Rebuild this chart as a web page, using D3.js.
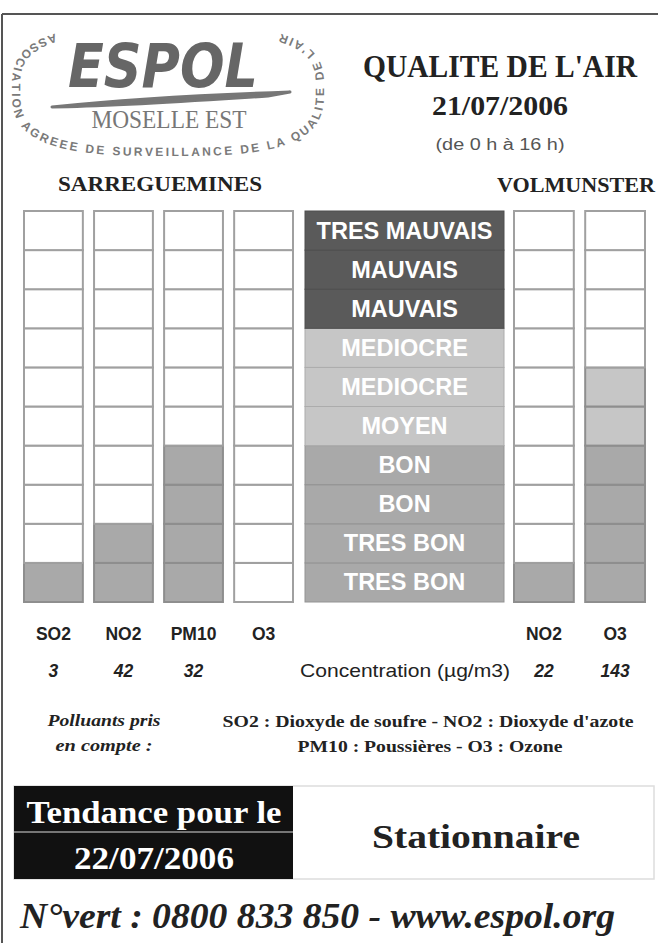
<!DOCTYPE html>
<html><head><meta charset="utf-8">
<script src="https://cdn.jsdelivr.net/npm/d3@7"></script>
<style>html,body{margin:0;padding:0;background:#fff;}svg{display:block;}</style>
</head><body>
<script>
// ---- data ----
const levels = [1,2,3,4,5,6,7,8,9,10];
const levelLabels = ["TRES BON","TRES BON","BON","BON","MOYEN","MEDIOCRE","MEDIOCRE","MAUVAIS","MAUVAIS","TRES MAUVAIS"];
const sarrePollutants = ["SO2","NO2","PM10","O3"];
const sarreIndices = [1,2,4,0];
const sarreConcentrations = ["3","42","32",""];
const volmPollutants = ["NO2","O3"];
const volmIndices = [1,6];
const volmConcentrations = ["22","143"];
const stations = ["SARREGUEMINES","VOLMUNSTER"];
const title = "QUALITE DE L'AIR";
const dateText = "21/07/2006";
const periodText = "(de 0 h à 16 h)";
const trendDate = "22/07/2006";
const trendText = "Stationnaire";
const logoRing = "ASSOCIATION AGREEE DE SURVEILLANCE DE LA QUALITE DE L'AIR";

const W = 658, H = 943;
const svg = d3.select("body").append("svg").attr("width", W).attr("height", H);
const serif = "'Liberation Serif','Times New Roman',serif";
const sans = "'Liberation Sans',Arial,sans-serif";

// frame
svg.append("line").attr("x1",2).attr("x2",W).attr("y1",14).attr("y2",14).attr("stroke","#555").attr("stroke-width",2);
svg.append("line").attr("x1",2).attr("x2",2).attr("y1",14).attr("y2",H).attr("stroke","#555").attr("stroke-width",2);

// ---- logo ----
const logo = svg.append("g");
const cx = 168, cy = 90, rx = 156, ry = 66, ex = 2/3;
const pts = d3.range(232, -52.5, -2).map(a => {
  const t = a*Math.PI/180, c = Math.cos(t), s = Math.sin(t);
  return [cx + rx*Math.sign(c)*Math.pow(Math.abs(c), ex), cy + ry*Math.sign(s)*Math.pow(Math.abs(s), ex)];
});
const ringPath = logo.append("path").attr("d", d3.line().curve(d3.curveCatmullRom)(pts)).attr("fill","none");
const pathNode = ringPath.node();
const L = pathNode.getTotalLength();
const ringG = logo.append("g").attr("font-family",sans).attr("font-weight","bold").attr("font-size",12).attr("fill","#7a7a7a");
const chars = Array.from(logoRing);
const widths = chars.map(ch => {
  const t = ringG.append("text").text(ch === " " ? "\u00a0" : ch);
  const w = t.node().getComputedTextLength(); t.remove(); return w;
});
const natural = d3.sum(widths);
const extra = (L - natural) / (chars.length - 1);
let acc = 0;
chars.forEach((ch, i) => {
  const s = acc + widths[i]/2;
  acc += widths[i] + extra;
  if (ch === " ") return;
  const p = pathNode.getPointAtLength(s);
  const pa = pathNode.getPointAtLength(Math.max(0, s-0.5)), pb = pathNode.getPointAtLength(Math.min(L, s+0.5));
  const ang = Math.atan2(pb.y - pa.y, pb.x - pa.x) * 180 / Math.PI;
  ringG.append("text").attr("text-anchor","middle")
    .attr("transform", `translate(${p.x},${p.y}) rotate(${ang})`).text(ch);
});
logo.append("text").attr("x",68).attr("y",87).attr("font-family","'DejaVu Sans',sans-serif")
  .attr("font-weight","bold").attr("font-style","italic").attr("font-size",60)
  .attr("fill","#666").attr("textLength",190).attr("lengthAdjust","spacingAndGlyphs").text("ESPOL");
logo.append("path").attr("d","M52,107 C110,101 200,95 290,92 L268,96 C190,101 120,106 52,107 Z")
  .attr("fill","#777").attr("stroke","#777").attr("stroke-width",3).attr("stroke-linejoin","round");
logo.append("text").attr("x",169).attr("y",128).attr("text-anchor","middle").attr("font-family",serif)
  .attr("font-size",26).attr("fill","#777").attr("textLength",155).attr("lengthAdjust","spacingAndGlyphs").text("MOSELLE EST");

// ---- title ----
svg.append("text").attr("x",500).attr("y",77).attr("text-anchor","middle").attr("font-family",serif)
  .attr("font-weight","bold").attr("font-size",31).attr("fill","#222").attr("textLength",274).attr("lengthAdjust","spacingAndGlyphs").text(title);
svg.append("text").attr("x",500).attr("y",115).attr("text-anchor","middle").attr("font-family",serif)
  .attr("font-weight","bold").attr("font-size",28).attr("fill","#222").attr("textLength",136).attr("lengthAdjust","spacingAndGlyphs").text(dateText);
svg.append("text").attr("x",500).attr("y",150).attr("text-anchor","middle").attr("font-family",sans)
  .attr("font-size",16).attr("fill","#555").attr("textLength",129).attr("lengthAdjust","spacingAndGlyphs").text(periodText);

svg.append("text").attr("x",160).attr("y",191).attr("text-anchor","middle").attr("font-family",serif)
  .attr("font-weight","bold").attr("font-size",21).attr("fill","#222").attr("textLength",204).attr("lengthAdjust","spacingAndGlyphs").text(stations[0]);
svg.append("text").attr("x",497).attr("y",192).attr("font-family",serif)
  .attr("font-weight","bold").attr("font-size",21).attr("fill","#222").attr("textLength",158).attr("lengthAdjust","spacingAndGlyphs").text(stations[1]);

// ---- scales ----
const y = d3.scaleBand().domain(levels).range([602, 211]);
const xS = d3.scaleBand().domain(sarrePollutants).range([24, 293]).paddingInner(0.16);
const xV = d3.scaleBand().domain(volmPollutants).range([514, 645]).paddingInner(0.16);
const labelX0 = 305, labelX1 = 504;
const color = d3.scaleOrdinal()
  .domain(["TRES BON","BON","MOYEN","MEDIOCRE","MAUVAIS","TRES MAUVAIS"])
  .range(["#a9a9a9","#a9a9a9","#c6c6c6","#c6c6c6","#5a5a5a","#5a5a5a"]);

function drawColumns(xs, pols, idx) {
  pols.forEach((p, i) => {
    const g = svg.append("g");
    g.selectAll("rect").data(levels).join("rect")
      .attr("x", xs(p)).attr("y", d => y(d))
      .attr("width", xs.bandwidth()).attr("height", y.bandwidth())
      .attr("fill", d => d <= idx[i] ? color(levelLabels[d-1]) : "#fff")
      .attr("stroke", d => d <= idx[i] ? "#8e8e8e" : "#a0a0a0").attr("stroke-width", 2);
  });
}
drawColumns(xS, sarrePollutants, sarreIndices);
drawColumns(xV, volmPollutants, volmIndices);

// label column
const lg = svg.append("g");
lg.selectAll("rect").data(levels).join("rect")
  .attr("x", labelX0).attr("y", d => y(d)).attr("width", labelX1 - labelX0).attr("height", y.bandwidth())
  .attr("fill", d => color(levelLabels[d-1]))
  .attr("stroke", d => d3.color(color(levelLabels[d-1])).darker(0.4)).attr("stroke-width", 1);
lg.selectAll("text").data(levels).join("text")
  .attr("x", (labelX0 + labelX1)/2).attr("y", d => y(d) + y.bandwidth()/2 + 8)
  .attr("text-anchor","middle").attr("font-family",sans).attr("font-weight","bold").attr("font-size",23.5)
  .attr("fill","#fff").text(d => levelLabels[d-1]);

// pollutant names & values
const bottom = svg.append("g").attr("font-family",sans).attr("font-weight","bold").attr("font-size",17.5).attr("fill","#222");
sarrePollutants.forEach((p,i) => {
  bottom.append("text").attr("x", xS(p)+xS.bandwidth()/2).attr("y",640).attr("text-anchor","middle").text(p);
  bottom.append("text").attr("x", xS(p)+xS.bandwidth()/2).attr("y",677).attr("text-anchor","middle").attr("font-style","italic").text(sarreConcentrations[i]);
});
volmPollutants.forEach((p,i) => {
  bottom.append("text").attr("x", xV(p)+xV.bandwidth()/2).attr("y",640).attr("text-anchor","middle").text(p);
  bottom.append("text").attr("x", xV(p)+xV.bandwidth()/2).attr("y",677).attr("text-anchor","middle").attr("font-style","italic").text(volmConcentrations[i]);
});
bottom.append("text").attr("x",405).attr("y",677).attr("text-anchor","middle").attr("font-weight","normal")
  .attr("textLength",210).attr("lengthAdjust","spacingAndGlyphs").attr("font-size",18.5).text("Concentration (µg/m3)");

// legend of pollutants
const leg = svg.append("g").attr("font-family",serif).attr("fill","#222").attr("font-size",17);
leg.append("text").attr("x",104).attr("y",726).attr("text-anchor","middle").attr("font-style","italic").attr("font-weight","bold")
  .attr("textLength",113).attr("lengthAdjust","spacingAndGlyphs").text("Polluants pris");
leg.append("text").attr("x",104).attr("y",751).attr("text-anchor","middle").attr("font-style","italic").attr("font-weight","bold")
  .attr("textLength",97).attr("lengthAdjust","spacingAndGlyphs").text("en compte :");
leg.append("text").attr("x",428).attr("y",727).attr("text-anchor","middle").attr("font-weight","bold")
  .attr("textLength",411).attr("lengthAdjust","spacingAndGlyphs").text("SO2 : Dioxyde de soufre - NO2 : Dioxyde d'azote");
leg.append("text").attr("x",430).attr("y",752).attr("text-anchor","middle").attr("font-weight","bold")
  .attr("textLength",265).attr("lengthAdjust","spacingAndGlyphs").text("PM10 : Poussières - O3 : Ozone");

// tendance box
svg.append("rect").attr("x",14).attr("y",786).attr("width",640).attr("height",93).attr("fill","#fff").attr("stroke","#ddd").attr("stroke-width",1.5);
svg.append("rect").attr("x",14).attr("y",786).attr("width",279).attr("height",93).attr("fill","#111");
svg.append("line").attr("x1",14).attr("x2",293).attr("y1",832).attr("y2",832).attr("stroke","#999").attr("stroke-width",1.5);
svg.append("text").attr("x",154).attr("y",823).attr("text-anchor","middle").attr("font-family",serif).attr("font-weight","bold")
  .attr("font-size",31).attr("fill","#fff").attr("textLength",255).attr("lengthAdjust","spacingAndGlyphs").text("Tendance pour le");
svg.append("text").attr("x",154).attr("y",869).attr("text-anchor","middle").attr("font-family",serif).attr("font-weight","bold")
  .attr("font-size",31).attr("fill","#fff").attr("textLength",160).attr("lengthAdjust","spacingAndGlyphs").text(trendDate);
svg.append("text").attr("x",476).attr("y",848).attr("text-anchor","middle").attr("font-family",serif).attr("font-weight","bold")
  .attr("font-size",34).attr("fill","#222").attr("textLength",208).attr("lengthAdjust","spacingAndGlyphs").text(trendText);

// footer
svg.append("text").attr("x",20).attr("y",928).attr("font-family",serif).attr("font-weight","bold").attr("font-style","italic")
  .attr("font-size",36).attr("fill","#222").attr("textLength",595).attr("lengthAdjust","spacingAndGlyphs").text("N°vert : 0800 833 850 - www.espol.org");
</script>
</body></html>
